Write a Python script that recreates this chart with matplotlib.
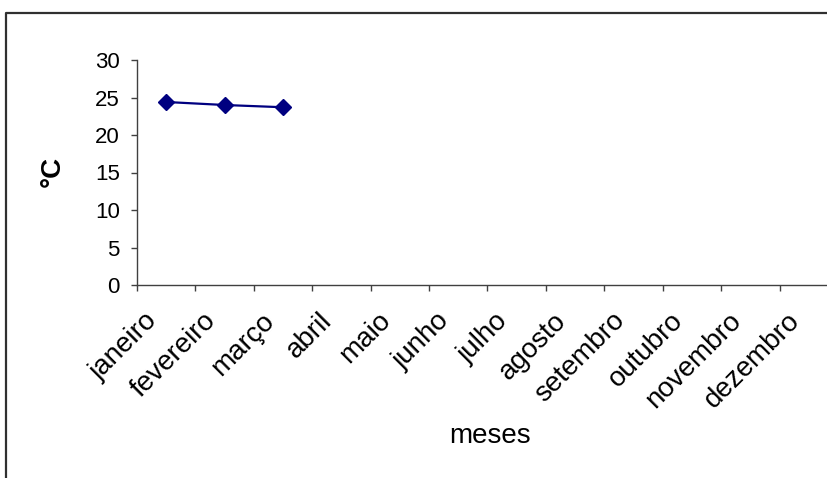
import numpy as np
import matplotlib
matplotlib.use('Agg')
import matplotlib.pyplot as plt
from matplotlib.lines import Line2D
from matplotlib.transforms import ScaledTranslation

plt.rcParams['font.family'] = ['Liberation Sans', 'DejaVu Sans']

meses = ['janeiro', 'fevereiro', 'março', 'abril', 'maio', 'junho', 'julho',
         'agosto', 'setembro', 'outubro', 'novembro', 'dezembro']
temp = [24.4, 24.0, 23.7]  # only first three months filled in
y_ticks = [0, 5, 10, 15, 20, 25, 30]

W, H = 828, 478
fig = plt.figure(figsize=(W / 100, H / 100), dpi=100)

# plot area runs off the right edge of the picture, like the original
x0, x1, ytop, ybot = 137, 838, 60, 285
ax = fig.add_axes([x0 / W, 1 - ybot / H, (x1 - x0) / W, (ybot - ytop) / H])

xpos = np.arange(len(meses))
ax.plot(xpos[:len(temp)], temp, color='#000080', lw=1.6,
        marker='D', ms=8.5, mfc='#000080', mec='#000080')

ax.set_xlim(-0.5, len(meses) - 0.5)
ax.set_ylim(0, 30)
ax.set_yticks(y_ticks)

for s in ['top', 'right']:
    ax.spines[s].set_visible(False)
for s in ['left', 'bottom']:
    ax.spines[s].set_color('#404040')
    ax.spines[s].set_linewidth(1)

# category boundaries get the ticks, labels sit at the centres
ax.set_xticks(np.arange(len(meses) + 1) - 0.5)
ax.set_xticklabels([])
ax.set_xticks(xpos, minor=True)
ax.set_xticklabels(meses, minor=True, rotation=45, ha='right', va='center',
                   rotation_mode='anchor', fontsize=20)
ax.tick_params(axis='x', which='major', direction='out', length=4.5,
               width=1, color='#404040')
ax.tick_params(axis='x', which='minor', length=0, pad=23)
off = ScaledTranslation(-13 / 100, 0, fig.dpi_scale_trans)
for lab in ax.get_xticklabels(minor=True):
    lab.set_transform(lab.get_transform() + off)

ax.tick_params(axis='y', direction='out', length=4.5, width=1,
               color='#404040', labelsize=16, pad=8)

fig.text(490 / W, 1 - 436 / H, 'meses', fontsize=20, ha='center', va='center')
fig.text(53 / W, 1 - 171 / H, '°C', fontsize=20, fontweight='bold',
         rotation=90, ha='center', va='center')

# outer chart frame, cut off at the right and bottom
bx, by = 6 / W, 1 - 13 / H
fig.add_artist(Line2D([bx, bx, 1.05], [-0.05, by, by], transform=fig.transFigure,
                      color='#303030', lw=1.6))

fig.savefig('out.png', dpi=100)
